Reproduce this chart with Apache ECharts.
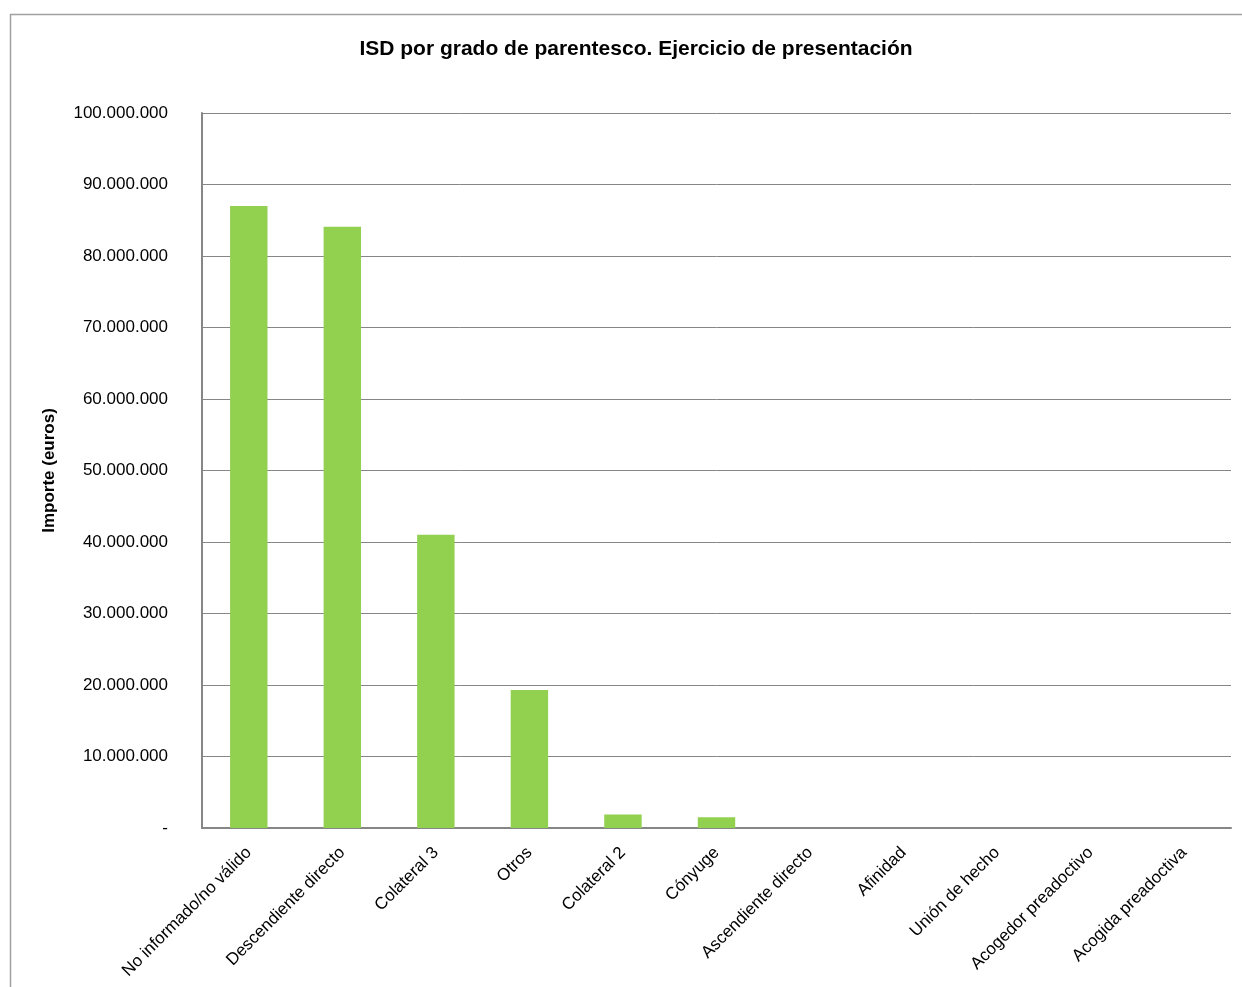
<!DOCTYPE html>
<html>
<head>
<meta charset="utf-8">
<script src="https://cdn.jsdelivr.net/npm/echarts@6/dist/echarts.min.js"></script>
<style>
  html, body { margin: 0; padding: 0; background: #fff; }
  #chart { width: 1242px; height: 987px; }
</style>
</head>
<body>
<div id="chart"></div>
<script>
// categorías (grado de parentesco)
var categories = [
  'No informado/no válido', 'Descendiente directo', 'Colateral 3', 'Otros',
  'Colateral 2', 'Cónyuge', 'Ascendiente directo', 'Afinidad',
  'Unión de hecho', 'Acogedor preadoctivo', 'Acogida preadoctiva'
];
// importe en euros
var importe = [87000000, 84100000, 41000000, 19300000, 1900000, 1500000, 0, 0, 0, 0, 0];

var yMin = 0;
var yMax = 100000000;
var yStep = 10000000;

var font = '"Liberation Sans", Arial, sans-serif';

function fmt(v) {
  if (v === 0) return '-';
  return String(Math.round(v)).replace(/\B(?=(\d{3})+(?!\d))/g, '.');
}

var chart = echarts.init(document.getElementById('chart'), null, { renderer: 'canvas' });

chart.setOption({
  animation: false,
  backgroundColor: '#fff',
  textStyle: { fontFamily: font },
  title: {
    text: 'ISD por grado de parentesco. Ejercicio de presentación',
    left: 631, top: 34, textAlign: 'center',
    textStyle: { fontSize: 21, fontWeight: 'bold', color: '#000', fontFamily: font }
  },
  graphic: [{
    type: 'rect',
    shape: { x: 10.5, y: 14.5, width: 1260, height: 1000 },
    style: { fill: 'none', stroke: '#a0a0a0', lineWidth: 1.5 },
    silent: true
  }],
  grid: { left: 202, right: 11, top: 113, bottom: 159 },
  xAxis: {
    type: 'category',
    data: categories,
    axisLine: { lineStyle: { color: '#868686', width: 2 } },
    axisTick: { show: false },
    axisLabel: {
      rotate: 45, interval: 0, color: '#000', fontSize: 17, margin: 22,
      fontFamily: font
    }
  },
  yAxis: {
    type: 'value',
    min: yMin, max: yMax, interval: yStep,
    name: 'Importe (euros)',
    nameLocation: 'middle',
    nameGap: 144,
    nameTextStyle: { fontSize: 17, fontWeight: 'bold', color: '#000', fontFamily: font },
    axisLine: { show: true, lineStyle: { color: '#868686', width: 2 } },
    axisTick: { show: false },
    axisLabel: { formatter: fmt, color: '#000', fontSize: 17, margin: 34, fontFamily: font },
    splitLine: { show: true, lineStyle: { color: '#868686', width: 1 } }
  },
  series: [{
    type: 'bar',
    data: importe,
    barWidth: '40%',
    itemStyle: { color: '#92d050' }
  }]
});
</script>
</body>
</html>
